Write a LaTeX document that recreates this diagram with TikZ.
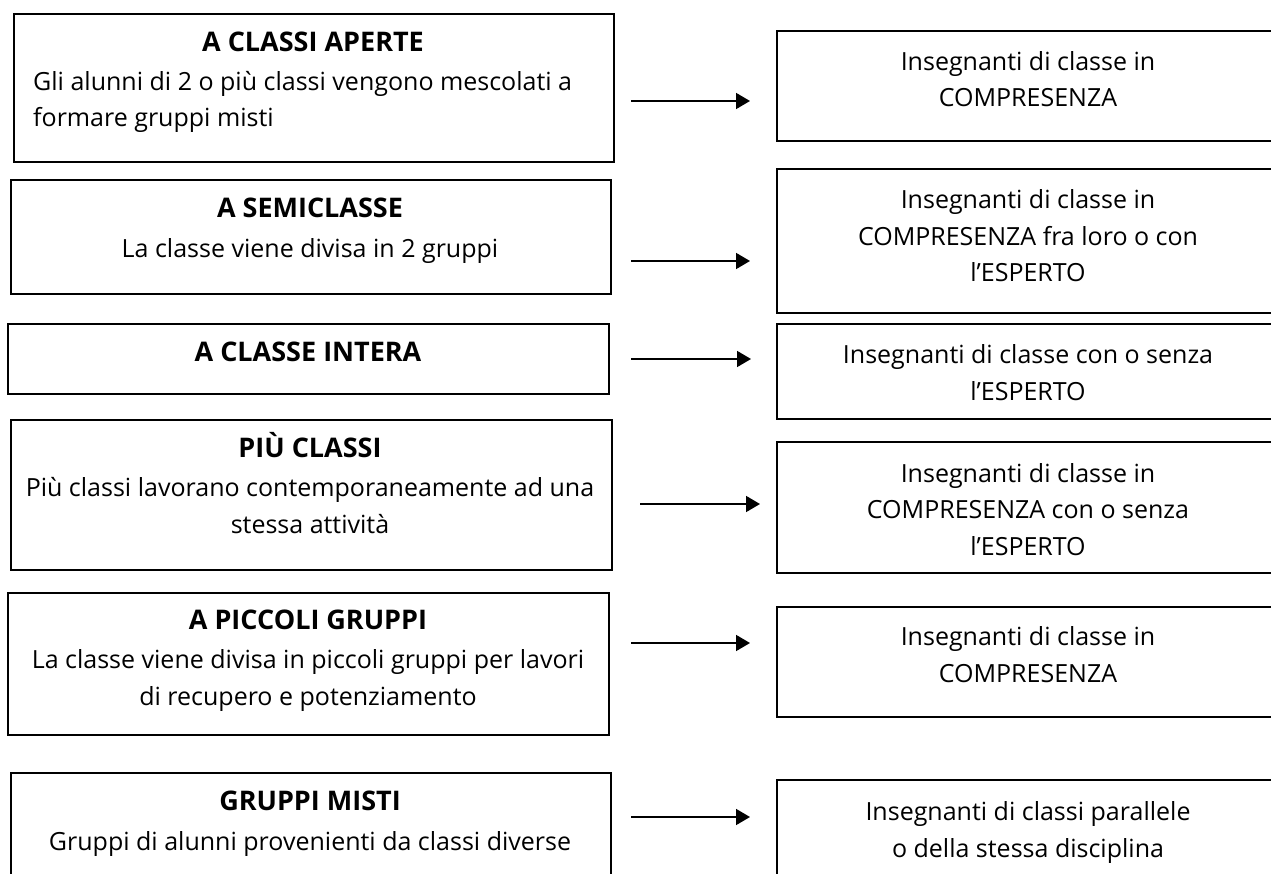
\documentclass[tikz,border=0pt]{standalone}
\usepackage{fontspec}
\setmainfont{Open Sans}
\usetikzlibrary{arrows.meta}
\begin{document}
\begin{tikzpicture}[x=1pt,y=-1pt,
  box/.style={draw=black,line width=1.8pt,inner sep=0pt,anchor=north west},
  head/.style={anchor=base,inner sep=0pt,font=\fontsize{27}{36}\selectfont\bfseries},
  body/.style={anchor=base,inner sep=0pt,align=center,font=\fontsize{25}{36.5}\selectfont},
  arr/.style={line width=1.7pt,-{Triangle[length=14pt,width=16pt]}}]
\useasboundingbox (0,0) rectangle (1271,874);
\clip (0,0) rectangle (1271,874);

% activity boxes (left column)
\node[box,minimum width=600,minimum height=148] (L1) at (13,13) {};
\node[box,minimum width=600,minimum height=114] (L2) at (10,179) {};
\node[box,minimum width=601,minimum height=70]  (L3) at (7,323) {};
\node[box,minimum width=601,minimum height=150] (L4) at (10,419) {};
\node[box,minimum width=601,minimum height=142] (L5) at (7,592) {};
\node[box,minimum width=600,minimum height=110] (L6) at (10,772) {};

% teacher boxes (right column)
\node[box,minimum width=504,minimum height=110] (R1) at (776,30) {};
\node[box,minimum width=504,minimum height=144] (R2) at (776,168) {};
\node[box,minimum width=504,minimum height=95]  (R3) at (776,323) {};
\node[box,minimum width=504,minimum height=131] (R4) at (776,441) {};
\node[box,minimum width=504,minimum height=110] (R5) at (776,606) {};
\node[box,minimum width=504,minimum height=110] (R6) at (776,779) {};

% left texts (multi-line nodes sit on the baseline of their last line)
\node[head] (L1h) at (313,52) {A CLASSI APERTE};
\node[body,anchor=base west,align=left] (L1b) at (33,127) {Gli alunni di 2 o più classi vengono mescolati a\\formare gruppi misti};
\node[head] (L2h) at (310,218) {A SEMICLASSE};
\node[body] (L2b) at (310,258) {La classe viene divisa in 2 gruppi};
\node[head] (L3h) at (308,361) {A CLASSE INTERA};
\node[head] (L4h) at (310,457) {PIÙ CLASSI};
\node[body] (L4b) at (310,533) {Più classi lavorano contemporaneamente ad una\\stessa attività};
\node[head] (L5h) at (308,629) {A PICCOLI GRUPPI};
\node[body] (L5b) at (308,705) {La classe viene divisa in piccoli gruppi per lavori\\di recupero e potenziamento};
\node[head] (L6h) at (310,810) {GRUPPI MISTI};
\node[body] (L6b) at (310,850) {Gruppi di alunni provenienti da classi diverse};

% right texts
\node[body] (R1t) at (1028,107) {Insegnanti di classe in\\COMPRESENZA};
\node[body] (R2t) at (1028,282) {Insegnanti di classe in\\COMPRESENZA fra loro o con\\l’ESPERTO};
\node[body] (R3t) at (1028,400) {Insegnanti di classe con o senza\\l’ESPERTO};
\node[body] (R4t) at (1028,555) {Insegnanti di classe in\\COMPRESENZA con o senza\\l’ESPERTO};
\node[body] (R5t) at (1028,682) {Insegnanti di classe in\\COMPRESENZA};
\node[body] (R6t) at (1028,857) {Insegnanti di classi parallele\\o della stessa disciplina};

% arrow ends
\coordinate (a1s) at (631,101); \coordinate (a1e) at (750,101);
\coordinate (a2s) at (631,261); \coordinate (a2e) at (750,261);
\coordinate (a3s) at (631,359); \coordinate (a3e) at (751,359);
\coordinate (a4s) at (640,504); \coordinate (a4e) at (760,504);
\coordinate (a5s) at (631,643); \coordinate (a5e) at (750,643);
\coordinate (a6s) at (631,817); \coordinate (a6e) at (750,817);
\draw[arr] (a1s) -- (a1e);
\draw[arr] (a2s) -- (a2e);
\draw[arr] (a3s) -- (a3e);
\draw[arr] (a4s) -- (a4e);
\draw[arr] (a5s) -- (a5e);
\draw[arr] (a6s) -- (a6e);
\end{tikzpicture}
\end{document}
